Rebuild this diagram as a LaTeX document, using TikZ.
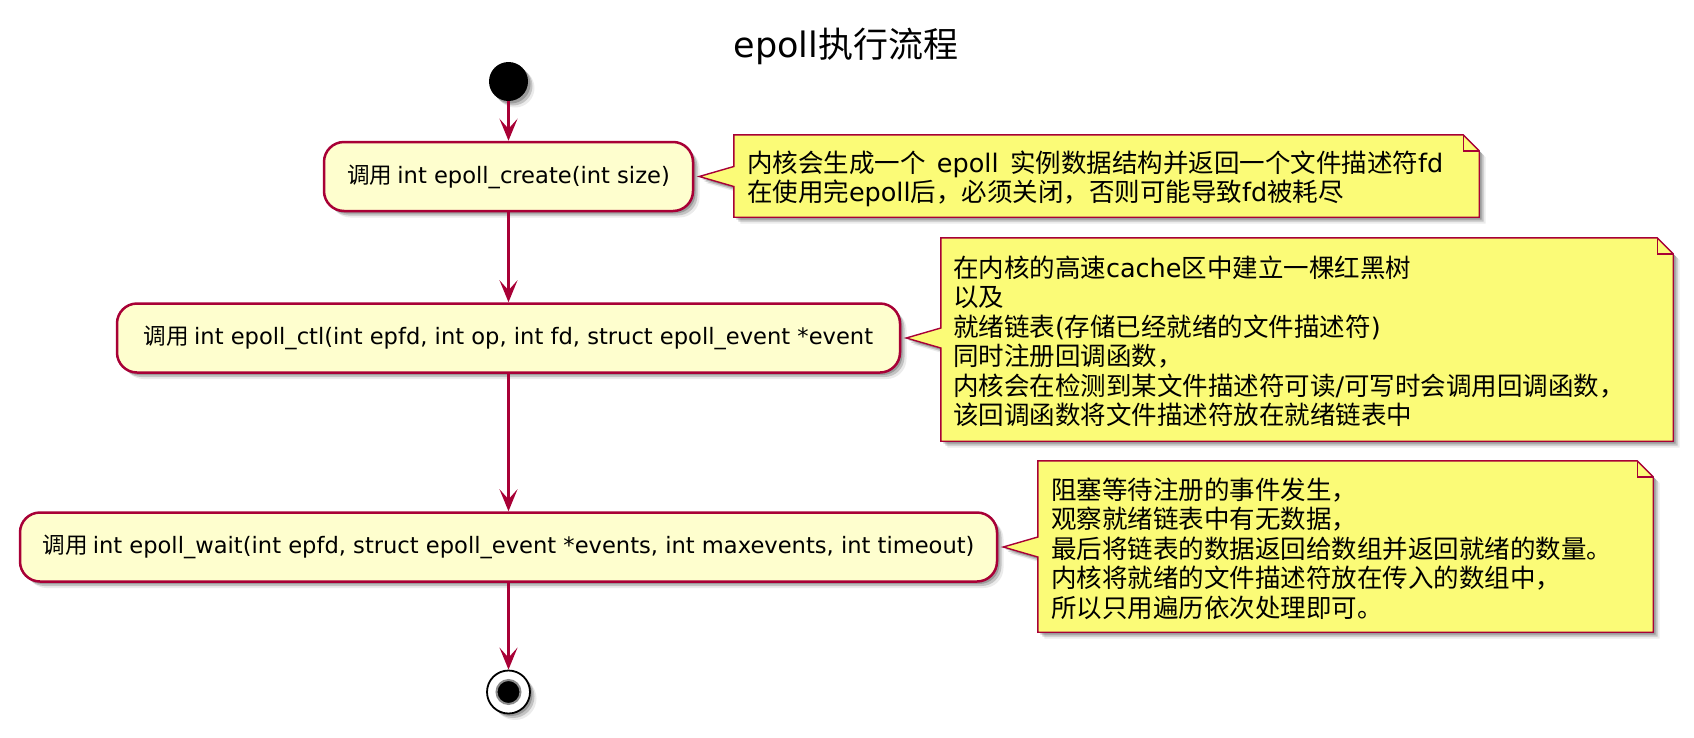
\documentclass[tikz,border=0pt]{standalone}
\usepackage{fontspec}
\setmainfont{Noto Sans CJK SC}
\newfontfamily\lat{DejaVu Sans}
\usetikzlibrary{arrows.meta,shadows,calc}
\pgfdeclarelayer{bg}
\pgfsetlayers{bg,main}
\definecolor{umlred}{HTML}{A80036}
\definecolor{actfill}{HTML}{FEFECE}
\definecolor{notefill}{HTML}{FBFB77}
\newcommand\wsp{\hspace{0.45em}}
\begin{document}
\begin{tikzpicture}[x=1pt,y=-1pt,
  softshadow/.style={drop shadow={shadow xshift=2.5pt,shadow yshift=-2.5pt,fill=black,opacity=0.2},
                     drop shadow={shadow xshift=4.5pt,shadow yshift=-4.5pt,fill=black,opacity=0.17},
                     drop shadow={shadow xshift=6.5pt,shadow yshift=-6.5pt,fill=black,opacity=0.08}},
  act/.style={rectangle,rounded corners=20pt,draw=umlred,fill=actfill,line width=2.5pt,
              minimum height=69pt,inner xsep=20pt,inner ysep=0pt,
              font=\fontsize{22.6}{27}\selectfont,softshadow},
  notebody/.style={inner sep=0pt,minimum width=#1},
  notetext/.style={inner sep=0pt,anchor=west,align=left,
                   font=\fontsize{25.5}{29.5}\selectfont},
  noteshape/.style={draw=umlred,fill=notefill,line width=1.4pt,line join=miter,softshadow},
  noteline/.style={draw=umlred,line width=1.4pt},
  flow/.style={draw=umlred,line width=2.2pt,-{Stealth[length=22pt,width=18pt,inset=10pt]}},
  notepath/.style 2 args={insert path={(#1.north west) -- ($(#1.north east)+(-16,0)$) -- ($(#1.north east)+(0,16)$) -- (#1.south east) -- (#1.south west) -- ($(#1.west |- #2)+(0,10)$) -- (#2) -- ($(#1.west |- #2)+(0,-10)$) -- cycle}},
  fold/.style={insert path={($(#1.north east)+(-16,0)$) -- ($(#1.north east)+(-16,16)$) -- ($(#1.north east)+(0,16)$)}}
]
\useasboundingbox (0,0) rectangle (1694,737);

% title
\node[font=\fontsize{35}{40}\selectfont,inner sep=0pt] (title) at (846,46) {{\lat epoll}执行流程};

% start
\node[circle,fill=black,minimum size=39pt,inner sep=0pt,softshadow] (start) at (508.5,81.5) {};

% activities
\node[act,minimum width=369pt] (b1) at (508.5,176.5) {调用 {\lat int epoll\_create(int size)}};
\node[act,minimum width=783pt] (b2) at (508.5,338) {调用 {\lat int epoll\_ctl(int epfd, int op, int fd, struct epoll\_event *event}};
\node[act,minimum width=977pt] (b3) at (508.5,547) {调用 {\lat int epoll\_wait(int epfd, struct epoll\_event *events, int maxevents, int timeout)}};

% stop
\node[circle,draw=black,line width=1.8pt,fill=white,minimum size=43pt,inner sep=0pt,softshadow] (stop) at (508.5,692) {};
\node[circle,fill=black,draw=black!45,line width=2pt,minimum size=24pt,inner sep=0pt] (stopin) at (stop.center) {};

% note bodies
\node[notebody=745pt,minimum height=82pt] (n1) at (1106.5,176) {};
\node[notebody=732pt,minimum height=203pt] (n2) at (1307,339.5) {};
\node[notebody=615pt,minimum height=171pt] (n3) at (1345.5,546.5) {};

% note texts
\node[notetext] (t1) at ($(n1.west)+(13,3)$)
  {内核会生成一个\wsp{\lat epoll}\wsp 实例数据结构并返回一个文件描述符{\lat fd}\\在使用完{\lat epoll}后，必须关闭，否则可能导致{\lat fd}被耗尽};
\node[notetext] (t2) at ($(n2.west)+(12,2)$)
  {在内核的高速{\lat cache}区中建立一棵红黑树\\以及\\就绪链表{\lat (}存储已经就绪的文件描述符{\lat )}\\同时注册回调函数，\\内核会在检测到某文件描述符可读{\lat /}可写时会调用回调函数，\\该回调函数将文件描述符放在就绪链表中};
\node[notetext] (t3) at ($(n3.west)+(13,2)$)
  {阻塞等待注册的事件发生，\\观察就绪链表中有无数据，\\最后将链表的数据返回给数组并返回就绪的数量。\\内核将就绪的文件描述符放在传入的数组中，\\所以只用遍历依次处理即可。};

\coordinate (p1) at ($(b1.east)+(5,0)$);
\coordinate (p2) at ($(b2.east)+(5,0)$);
\coordinate (p3) at ($(b3.east)+(5,0)$);

\begin{pgfonlayer}{bg}
  \fill[white] (0,0) rectangle (1694,737);
  \filldraw[noteshape] [notepath={n1}{p1}];
  \draw[noteline] [fold=n1];
  \filldraw[noteshape] [notepath={n2}{p2}];
  \draw[noteline] [fold=n2];
  \filldraw[noteshape] [notepath={n3}{p3}];
  \draw[noteline] [fold=n3];
\end{pgfonlayer}

% connectors
\draw[flow] (start.south) -- (b1.north);
\draw[flow] (b1.south) -- (b2.north);
\draw[flow] (b2.south) -- (b3.north);
\draw[flow] (b3.south) -- (stop.north);
\end{tikzpicture}
\end{document}
